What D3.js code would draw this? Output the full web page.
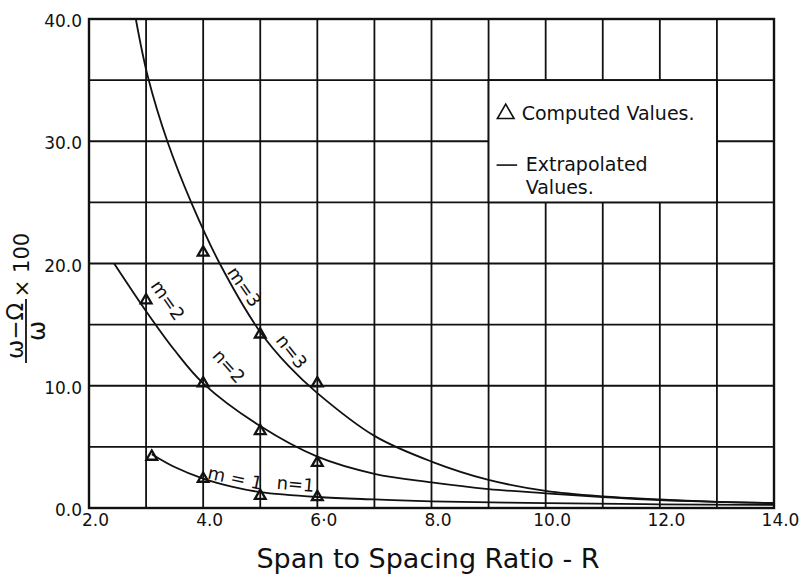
<!DOCTYPE html>
<html>
<head>
<meta charset="utf-8">
<script src="https://cdn.jsdelivr.net/npm/d3@7"></script>
<style>
  html, body { margin: 0; padding: 0; background: #fff; }
  svg { display: block; }
  text { font-family: "DejaVu Sans", sans-serif; fill: #111; }
</style>
</head>
<body>
<svg id="chart" width="803" height="574"></svg>
<script>
// ---------- data ----------
const xTickValues = [2, 4, 6, 8, 10, 12, 14];
const xTickLabels = ["2.0", "4.0", "6·0", "8.0", "10.0", "12.0", "14.0"];
const yTickValues = [0, 10, 20, 30, 40];
const yTickLabels = ["0.0", "10.0", "20.0", "30.0", "40.0"];

// extrapolated curves
const curve3X = [2.82, 3.03, 3.38, 3.8, 4.29, 5.0, 5.5, 6.0, 7.0, 8.0, 9.0, 10.0, 11.0, 12.0, 13.0, 14.0];
const curve3Y = [40, 35.3, 29.9, 24.9, 20.0, 14.4, 11.6, 9.4, 5.9, 3.8, 2.3, 1.4, 0.95, 0.7, 0.5, 0.4];
const curve2X = [2.44, 3.0, 3.5, 4.0, 5.0, 6.0, 7.0, 8.0, 9.0, 10.0, 11.0, 12.0, 13.0, 14.0];
const curve2Y = [20, 16.1, 12.9, 10.2, 6.7, 4.2, 2.8, 2.1, 1.55, 1.2, 0.9, 0.65, 0.5, 0.4];
const curve1X = [3.1, 3.5, 4.0, 4.5, 5.0, 6.0, 7.0, 8.0, 10.0, 12.0, 14.0];
const curve1Y = [4.4, 3.35, 2.4, 1.75, 1.3, 0.9, 0.7, 0.55, 0.4, 0.3, 0.25];

// computed values (triangles)
const comp3X = [4, 5, 6];
const comp3Y = [20.9, 14.2, 10.2];
const comp2X = [3, 4, 5, 6];
const comp2Y = [17.0, 10.2, 6.3, 3.7];
const comp1X = [3.1, 4, 5, 6];
const comp1Y = [4.2, 2.4, 1.0, 0.9];

// curve labels
const curveLabels = ["m=3", "n=3", "m=2", "n=2", "m = 1", "n=1"];
const curveLabelX = [4.72, 5.55, 3.38, 4.45, 4.56, 5.62];
const curveLabelY = [18.1, 12.8, 17.0, 11.6, 2.45, 1.96];
const curveLabelAngle = [55, 52, 55, 48, 12, 5];

// ---------- layout ----------
const svg = d3.select("#chart");
const plotL = 89, plotR = 774, plotT = 19, plotB = 508;
const x = d3.scaleLinear().domain([2, 14]).range([plotL, plotR]);
const y = d3.scaleLinear().domain([0, 40]).range([plotB, plotT]);

// grid
const grid = svg.append("g").attr("stroke", "#111").attr("stroke-width", 1.8);
grid.selectAll("line.v").data(d3.range(3, 14)).join("line").attr("class", "v")
  .attr("x1", d => x(d)).attr("x2", d => x(d))
  .attr("y1", y(0)).attr("y2", y(40));
grid.selectAll("line.h").data(d3.range(5, 40, 5)).join("line").attr("class", "h")
  .attr("x1", x(2)).attr("x2", x(14))
  .attr("y1", d => y(d)).attr("y2", d => y(d));

// legend box (blank area in grid)
svg.append("rect")
  .attr("x", x(9)).attr("y", y(35))
  .attr("width", x(13) - x(9)).attr("height", y(25) - y(35))
  .attr("fill", "#fff").attr("stroke", "#111").attr("stroke-width", 1.8);

// frame
svg.append("rect")
  .attr("x", plotL).attr("y", plotT)
  .attr("width", plotR - plotL).attr("height", plotB - plotT)
  .attr("fill", "none").attr("stroke", "#111").attr("stroke-width", 2.4);

// axes (tick labels only)
const xAxis = d3.axisBottom(x).tickValues(xTickValues)
  .tickFormat((d, i) => xTickLabels[i]).tickSize(0).tickPadding(6);
const gx = svg.append("g").attr("transform", `translate(0,${plotB})`).call(xAxis);
gx.select(".domain").remove();
gx.selectAll("text").attr("font-family", "DejaVu Sans, sans-serif")
  .attr("font-size", 17).attr("fill", "#111").attr("dx", 6);

const yAxis = d3.axisLeft(y).tickValues(yTickValues)
  .tickFormat((d, i) => yTickLabels[i]).tickSize(0).tickPadding(7);
const gy = svg.append("g").attr("transform", `translate(${plotL},0)`).call(yAxis);
gy.select(".domain").remove();
gy.selectAll("text").attr("font-family", "DejaVu Sans, sans-serif")
  .attr("font-size", 17).attr("fill", "#111").attr("dy", "0.45em");

// curves
const line = d3.line().x(d => x(d[0])).y(d => y(d[1])).curve(d3.curveCatmullRom.alpha(0.5));
const curves = [
  d3.zip(curve3X, curve3Y),
  d3.zip(curve2X, curve2Y),
  d3.zip(curve1X, curve1Y)
];
svg.append("g").selectAll("path").data(curves).join("path")
  .attr("d", line).attr("fill", "none").attr("stroke", "#111").attr("stroke-width", 1.8);

// computed triangles
const tri = d3.symbol().type(d3.symbolTriangle).size(50);
const pts = [].concat(d3.zip(comp3X, comp3Y), d3.zip(comp2X, comp2Y), d3.zip(comp1X, comp1Y));
svg.append("g").selectAll("path").data(pts).join("path")
  .attr("d", tri)
  .attr("transform", d => `translate(${x(d[0])},${y(d[1])})`)
  .attr("fill", "none").attr("stroke", "#111").attr("stroke-width", 2.3);

// curve labels
svg.append("g").selectAll("text").data(curveLabels).join("text")
  .attr("transform", (d, i) => `translate(${x(curveLabelX[i])},${y(curveLabelY[i])}) rotate(${curveLabelAngle[i]})`)
  .attr("text-anchor", "middle").attr("dy", "0.35em")
  .attr("font-size", 18)
  .text(d => d);

// legend
const lg = svg.append("g");
lg.append("path")
  .attr("d", d3.symbol().type(d3.symbolTriangle).size(120)())
  .attr("transform", `translate(${x(9.3)},${y(32.25)})`)
  .attr("fill", "none").attr("stroke", "#111").attr("stroke-width", 1.6);
lg.append("text").attr("x", x(9.58)).attr("y", y(32.3)).attr("dy", "0.35em")
  .attr("font-size", 19).text("Computed Values.");
lg.append("line")
  .attr("x1", x(9.14)).attr("x2", x(9.5))
  .attr("y1", y(28.05)).attr("y2", y(28.05))
  .attr("stroke", "#111").attr("stroke-width", 1.6);
lg.append("text").attr("x", x(9.65)).attr("y", y(28.1)).attr("dy", "0.35em")
  .attr("font-size", 19).text("Extrapolated");
lg.append("text").attr("x", x(9.65)).attr("y", y(26.2)).attr("dy", "0.35em")
  .attr("font-size", 19).text("Values.");

// x axis title
svg.append("text").attr("x", 428).attr("y", 568)
  .attr("text-anchor", "middle").attr("font-size", 27)
  .text("Span to Spacing Ratio - R");

// y axis title: (ω − Ω)/ω × 100, rotated
const yt = svg.append("g").attr("transform", "translate(26,331) rotate(-90)");
yt.append("text").attr("x", 0).attr("y", -3).attr("text-anchor", "middle")
  .attr("font-size", 23).text("ω−Ω");
yt.append("line").attr("x1", -32).attr("x2", 32).attr("y1", 0).attr("y2", 0)
  .attr("stroke", "#111").attr("stroke-width", 1.8);
yt.append("text").attr("x", 0).attr("y", 19).attr("text-anchor", "middle")
  .attr("font-size", 24).text("ω");
yt.append("text").attr("x", 66).attr("y", 3).attr("text-anchor", "middle")
  .attr("font-size", 21).text("× 100");
</script>
</body>
</html>
